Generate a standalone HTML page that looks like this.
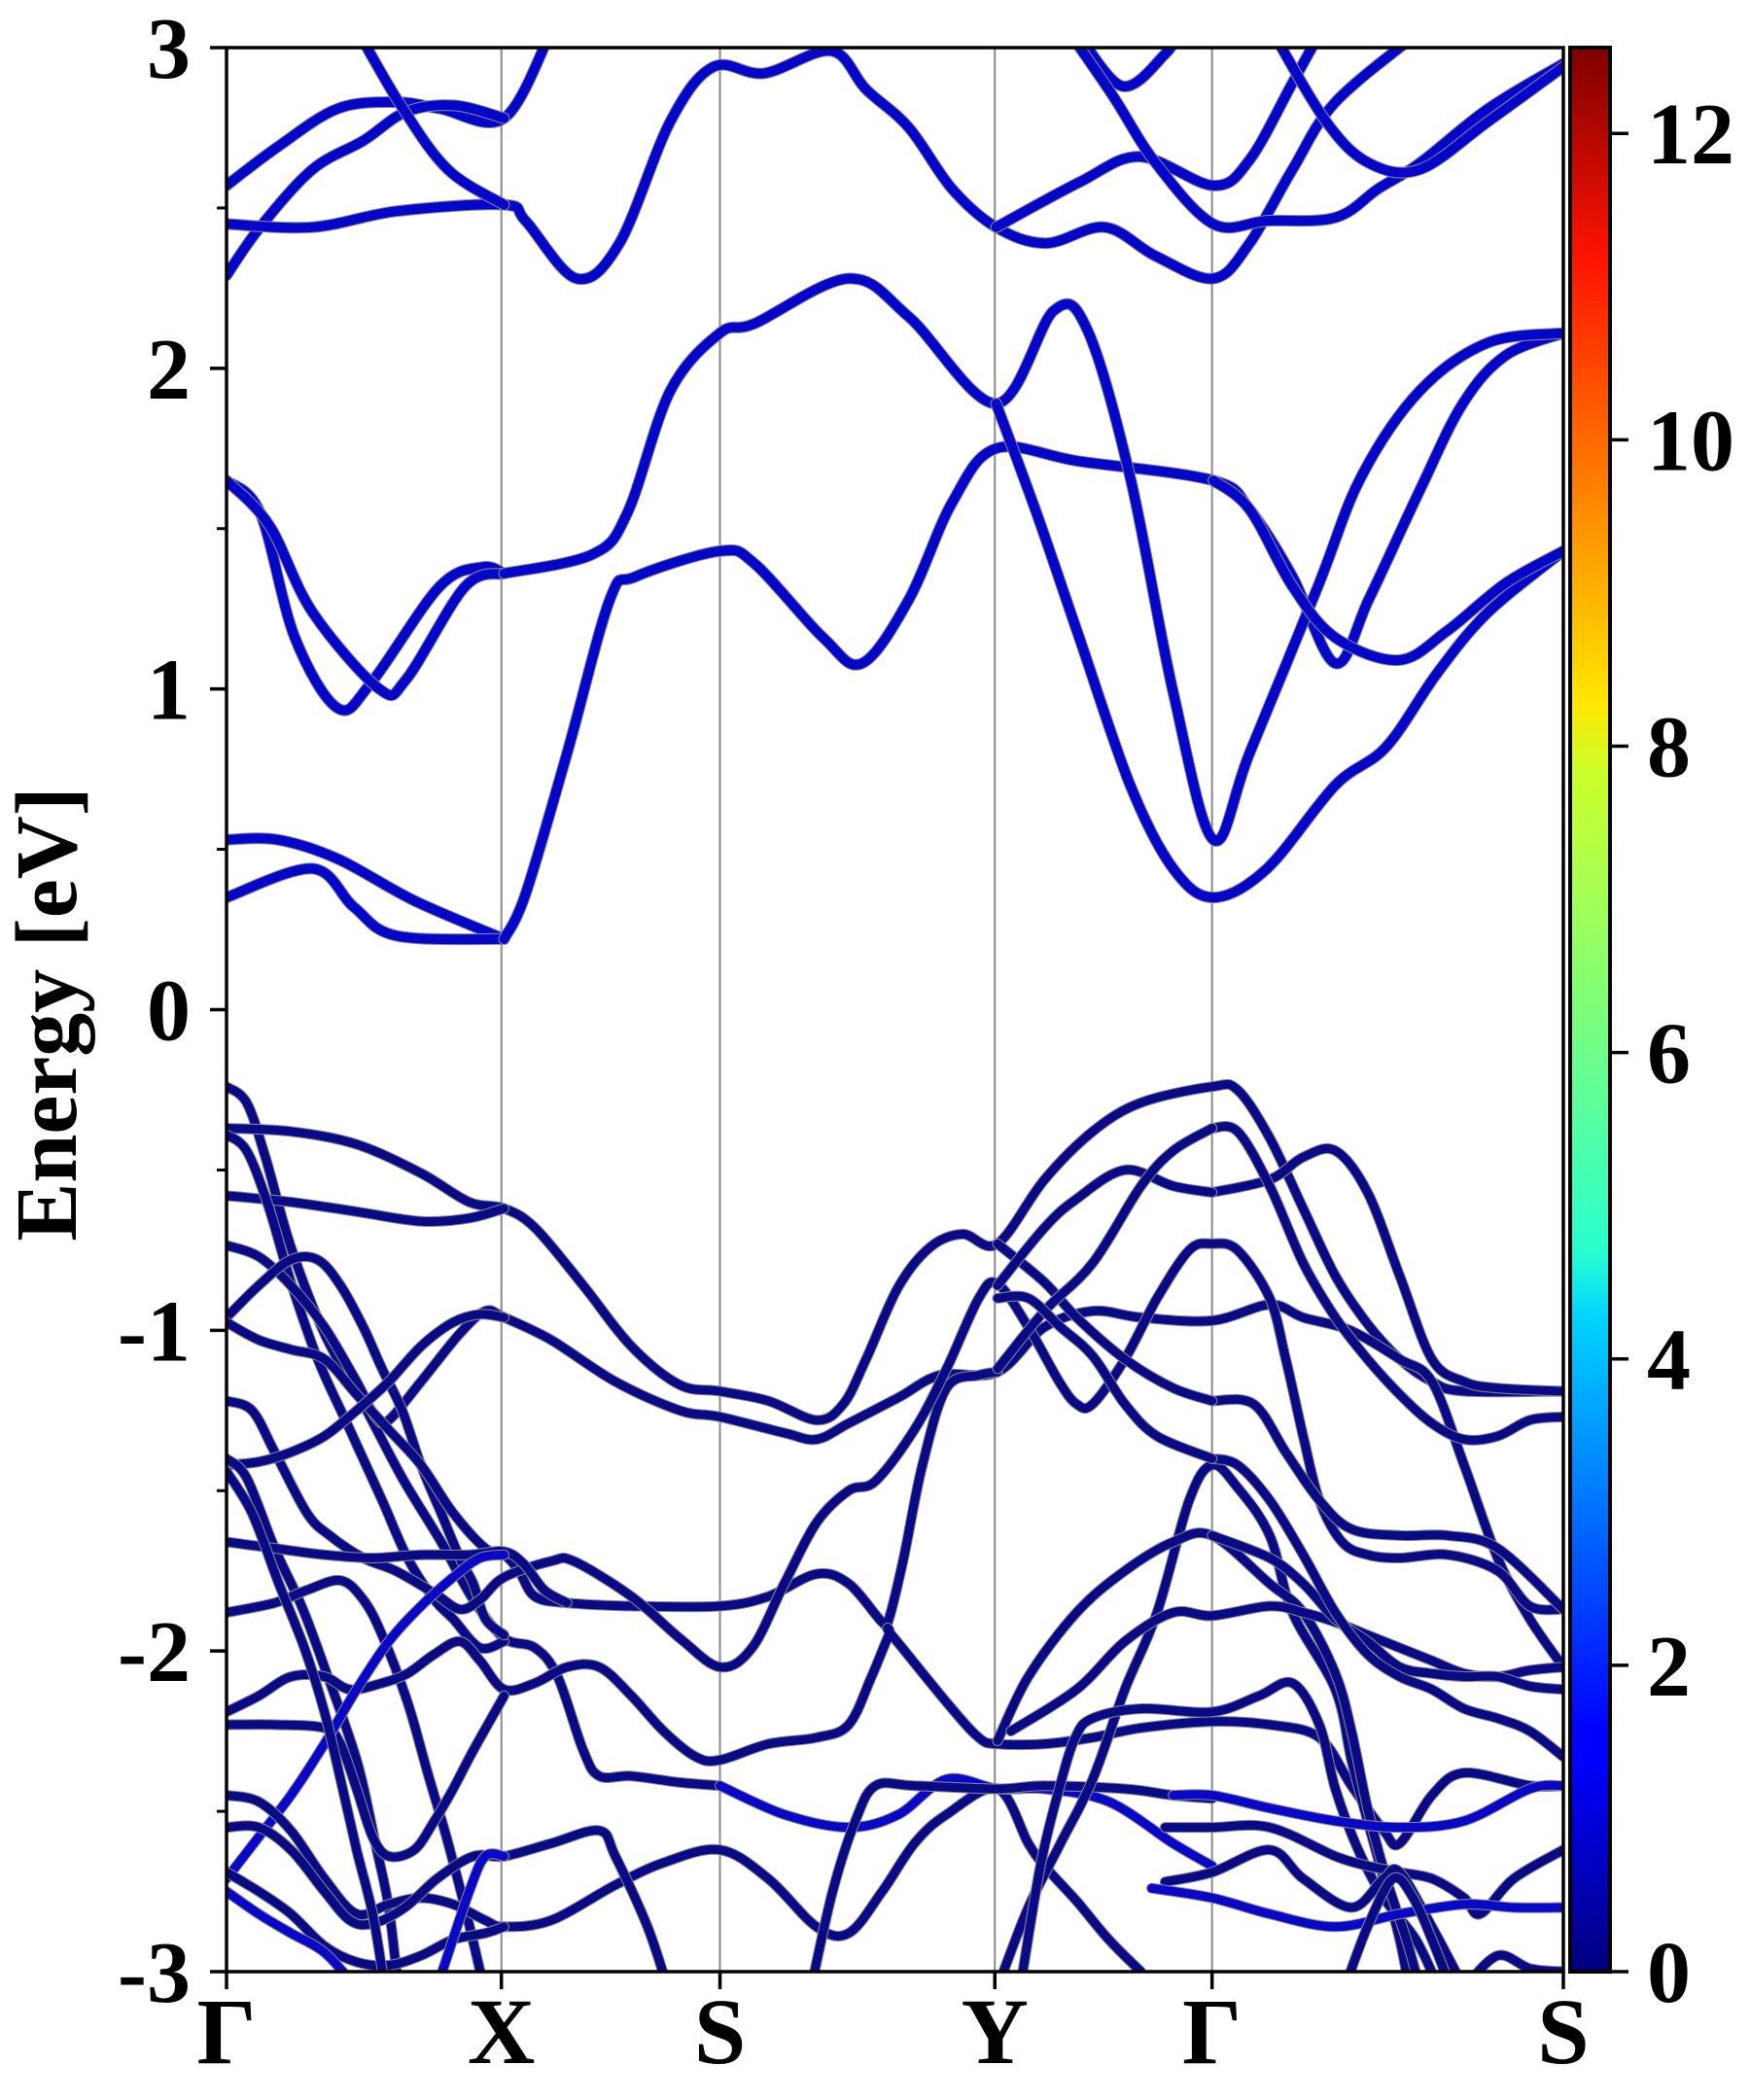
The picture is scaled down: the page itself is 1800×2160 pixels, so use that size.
<!DOCTYPE html>
<html><head><meta charset="utf-8"><style>
html,body{margin:0;padding:0;background:#fff;}
svg{display:block;}
text{font-family:"Liberation Serif","Times New Roman",Times,serif;font-weight:bold;fill:#000;}
</style></head><body>
<svg id="chart" width="1800" height="2160" viewBox="0 0 1800 2160" xmlns="http://www.w3.org/2000/svg" font-family="Liberation Serif, Times New Roman, serif">
<defs>
<clipPath id="plotclip"><rect x="233" y="49" width="1375" height="1979"/></clipPath>
<linearGradient id="jet" x1="0" y1="1" x2="0" y2="0">
<stop offset="0" stop-color="#00007f"/><stop offset="0.11" stop-color="#0000ff"/><stop offset="0.125" stop-color="#0000ff"/>
<stop offset="0.34" stop-color="#00d4ff"/><stop offset="0.375" stop-color="#29ffce"/><stop offset="0.5" stop-color="#7dff7a"/>
<stop offset="0.625" stop-color="#ceff29"/><stop offset="0.66" stop-color="#ffe600"/><stop offset="0.89" stop-color="#ff1300"/><stop offset="1" stop-color="#7f0000"/>
</linearGradient>
</defs>
<g id="grid"></g>
<g id="bands" clip-path="url(#plotclip)"></g>
<g id="axes"></g>
<text font-family="Liberation Serif, Times New Roman, serif" font-weight="bold" transform="translate(78,1043) rotate(-90)" font-size="90" text-anchor="middle">Energy [eV]</text>
<g id="cbar"></g>
</svg>
<script>
const kTicks = [170, 375, 538, 743, 905, 1167];
const kLabels = ["Γ", "X", "S", "Y", "Γ", "S"];
const yTicks = [-3, -2, -1, 0, 1, 2, 3];
const yMinor = [-2.5, -1.5, -0.5, 0.5, 1.5, 2.5];
const cbarTicks = [0, 2, 4, 6, 8, 10, 12];
const cbarMax = 12.56;

// conduction bands [k, E]
const bandC1 = [[170,.53],[208,.53],[253,.47],[310,.34],[377,.22]];
const bandC2 = [[170,.35],[234,.44],[265,.32],[297,.23],[377,.22]];
const bandC3 = [[377,.22],[393,.36],[424,.80],[456,1.28],[475,1.35],[538,1.43],[564,1.39],[615,1.16],[644,1.08],[679,1.28],[711,1.58],[744,1.75],[806,1.71],[906,1.65],[933,1.56],[965,1.35],[997,1.08],[1022,1.28],[1060,1.62],[1092,1.89],[1124,2.04],[1167,2.11]];
const bandC4 = [[170,1.65],[195,1.55],[221,1.16],[253,.94],[278,1.02],[329,1.32],[361,1.38],[377,1.36]];
const bandC5 = [[170,1.65],[202,1.51],[234,1.24],[284,1.0],[304,1.03],[348,1.32],[377,1.36]];
const bandC6 = [[377,1.36],[443,1.42],[469,1.55],[501,1.93],[538,2.11],[564,2.14],[634,2.28],[679,2.16],[744,1.89],[787,2.18],[812,2.12],[844,1.66],[876,.99],[906,.53],[933,.80],[984,1.32],[1016,1.66],[1060,1.93],[1111,2.08],[1167,2.11]];
const bandC7 = [[744,1.89],[774,1.55],[806,1.16],[844,.70],[876,.44],[906,.35],[946,.44],[997,.70],[1035,.82],[1073,1.05],[1111,1.24],[1167,1.43]];
const bandC8 = [[906,1.65],[933,1.56],[965,1.32],[997,1.16],[1044,1.09],[1080,1.18],[1124,1.33],[1167,1.43]];
const bandU1 = [[170,2.57],[208,2.69],[253,2.81],[297,2.83],[329,2.81],[377,2.78],[412,3.05]];
const bandU2 = [[170,2.29],[195,2.44],[234,2.62],[272,2.71],[304,2.80],[340,2.82],[377,2.78]];
const bandU3 = [[170,2.45],[234,2.44],[297,2.49],[377,2.51],[393,2.46],[431,2.28],[463,2.39],[501,2.77],[533,2.94],[571,2.92],[621,2.99],[647,2.87],[679,2.75],[711,2.56],[744,2.44],[781,2.39],[825,2.44],[863,2.35],[906,2.28],[933,2.39],[965,2.62],[997,2.83],[1060,3.05]];
const bandU4 = [[268,3.05],[300,2.82],[335,2.62],[377,2.51]];
const bandU5 = [[744,2.44],[806,2.58],[851,2.66],[906,2.57],[933,2.65],[965,2.89],[986,3.05]];
const bandU6 = [[804,3.05],[838,2.88],[870,2.98],[880,3.05]];
const bandU7 = [[798,3.05],[831,2.85],[863,2.64],[906,2.45],[946,2.46],[997,2.47],[1029,2.56],[1060,2.64],[1111,2.81],[1167,2.95]];
const bandU8 = [[950,3.05],[990,2.77],[1022,2.64],[1060,2.62],[1111,2.77],[1167,2.94]];

// valence bands [k, E]
const bandV1 = [[170,-.24],[185,-.29],[199,-.46],[218,-.74],[243,-1.01],[272,-1.23],[301,-1.46],[330,-1.66],[354,-1.84],[377,-1.96],[400,-1.99],[417,-2.08],[436,-2.31],[448,-2.39],[472,-2.39],[508,-2.41],[538,-2.42]];
const bandV2 = [[170,-.37],[218,-.38],[267,-.42],[315,-.51],[351,-.60],[377,-.62],[400,-.68],[436,-.86],[472,-1.05],[508,-1.17],[538,-1.19],[574,-1.22],[610,-1.28],[630,-1.23],[647,-1.09],[671,-.865],[695,-.74],[719,-.70],[745,-.73],[780,-.53],[816,-.38],[852,-.29],[905,-.24],[924,-.25],[948,-.40],[973,-.62],[997,-.83],[1021,-.98],[1045,-1.09],[1069,-1.16],[1093,-1.19],[1167,-1.19]];
const bandV3 = [[170,-.58],[218,-.60],[267,-.63],[315,-.66],[351,-.65],[377,-.62]];
const bandV4 = [[170,-.39],[185,-.44],[201,-.61],[218,-.85],[238,-1.09],[262,-1.31],[286,-1.53],[305,-1.71],[325,-1.84],[339,-1.90],[359,-1.99],[377,-1.97]];
const bandV5 = [[170,-.735],[194,-.77],[218,-.86],[243,-.99],[267,-1.16],[281,-1.27],[291,-1.28],[315,-1.16],[344,-1.01],[363,-.94],[377,-.96],[412,-1.03],[460,-1.16],[508,-1.25],[538,-1.27],[586,-1.32],[610,-1.34],[634,-1.29],[671,-1.21],[702,-1.14],[745,-1.13],[780,-.99],[816,-.94],[852,-.96],[905,-.97],[948,-.92],[973,-.96],[1008,-1.0],[1045,-1.09],[1069,-1.16],[1093,-1.42],[1118,-1.71],[1142,-1.90],[1167,-2.05]];
const bandV6 = [[170,-.96],[194,-.86],[218,-.78],[238,-.78],[255,-.86],[272,-.99],[286,-1.12],[301,-1.25],[315,-1.42],[330,-1.57],[344,-1.71],[354,-1.79],[363,-1.90],[377,-1.95]];
const bandV7 = [[170,-.975],[194,-1.03],[218,-1.06],[243,-1.09],[267,-1.20],[291,-1.31],[315,-1.42],[339,-1.57],[363,-1.68],[377,-1.70],[388,-1.75],[400,-1.83],[424,-1.85],[472,-1.86],[538,-1.86],[574,-1.83],[610,-1.76],[634,-1.79],[659,-1.91],[664,-1.90],[675,-1.71],[689,-1.42],[707,-1.18],[731,-1.14],[745,-1.13]];
const bandV8 = [[170,-1.22],[189,-1.25],[206,-1.38],[230,-1.57],[247,-1.64],[272,-1.71],[296,-1.75],[325,-1.82],[344,-1.87],[359,-1.84],[377,-1.77],[412,-1.72],[429,-1.72],[472,-1.83],[508,-1.96],[538,-2.05],[562,-1.99],[586,-1.79],[610,-1.60],[634,-1.50],[654,-1.47],[683,-1.31],[707,-1.12],[731,-.90],[745,-.855],[768,-.99],[791,-1.16],[804,-1.23],[816,-1.23],[840,-1.09],[864,-.90],[888,-.75],[905,-.73],[924,-.75],[948,-.90],[960,-1.09],[973,-1.33],[985,-1.53],[1002,-1.66],[1021,-1.70],[1045,-1.71],[1081,-1.70],[1118,-1.75],[1142,-1.86],[1167,-1.87]];
const bandV9 = [[170,-1.42],[194,-1.41],[218,-1.38],[243,-1.33],[267,-1.25],[291,-1.16],[315,-1.05],[339,-.975],[359,-.95],[377,-.96]];
const bandV10 = [[170,-1.40],[185,-1.46],[206,-1.68],[226,-1.86],[243,-2.05],[267,-2.34],[281,-2.60],[291,-2.80],[298,-3.05]];
const bandV11 = [[170,-1.66],[206,-1.68],[243,-1.70],[279,-1.71],[315,-1.70],[351,-1.70],[377,-1.69],[392,-1.73],[407,-1.81],[424,-1.85]];
const bandV12 = [[170,-1.88],[206,-1.85],[230,-1.81],[255,-1.78],[272,-1.84],[286,-1.95],[305,-2.16],[320,-2.38],[334,-2.58],[349,-2.82],[362,-3.05]];
const bandV13 = [[170,-2.19],[194,-2.14],[218,-2.08],[243,-2.08],[262,-2.12],[286,-2.10],[305,-2.07],[325,-2.01],[344,-1.97],[359,-2.03],[377,-2.12],[400,-2.10],[424,-2.05],[448,-2.05],[472,-2.14],[496,-2.25],[520,-2.33],[538,-2.34],[574,-2.29],[610,-2.27],[634,-2.23],[651,-2.08],[664,-1.95],[666,-1.95],[707,-2.16],[731,-2.27],[745,-2.29],[780,-2.29],[816,-2.27],[852,-2.24],[905,-2.22],[948,-2.23],[985,-2.27],[1009,-2.42],[1033,-2.56],[1045,-2.60],[1069,-2.45],[1093,-2.38],[1142,-2.42],[1167,-2.42]];
const bandV14 = [[170,-2.23],[206,-2.23],[243,-2.24],[255,-2.29],[267,-2.43],[279,-2.58],[291,-2.64],[310,-2.62],[325,-2.53],[339,-2.43],[354,-2.31],[377,-2.14]];
const bandV15 = [[170,-2.71],[194,-2.58],[218,-2.45],[243,-2.29],[267,-2.12],[291,-1.97],[315,-1.86],[339,-1.77],[359,-1.71],[377,-1.70]];
const bandV16 = [[170,-2.45],[194,-2.47],[218,-2.56],[243,-2.71],[267,-2.82],[291,-2.79],[315,-2.77],[339,-2.79],[363,-2.84],[377,-2.86],[412,-2.84],[460,-2.73],[496,-2.66],[538,-2.62],[574,-2.71],[610,-2.86],[634,-2.88],[659,-2.75],[683,-2.60],[707,-2.51],[745,-2.43],[768,-2.60],[780,-2.67],[804,-2.78],[828,-2.90],[852,-3.0]];
const bandV17 = [[170,-2.55],[194,-2.55],[218,-2.62],[243,-2.75],[262,-2.84],[279,-2.85],[303,-2.80],[327,-2.71],[354,-2.64],[377,-2.64],[412,-2.60],[448,-2.56],[460,-2.64],[484,-2.86],[499,-3.05]];
const bandV18 = [[170,-2.69],[194,-2.75],[218,-2.82],[243,-2.92],[267,-2.97],[291,-2.98],[315,-2.95],[339,-2.90],[363,-2.88],[377,-2.86]];
const bandV19 = [[170,-2.75],[194,-2.82],[218,-2.88],[243,-2.94],[267,-3.05]];
const bandV20 = [[170,-1.44],[189,-1.57],[209,-1.79],[228,-1.99],[243,-2.19],[255,-2.40],[267,-2.62],[279,-2.82],[288,-3.05]];
const bandV21 = [[327,-3.05],[351,-2.75],[363,-2.64],[377,-2.64]];
const bandV22 = [[538,-2.42],[586,-2.51],[634,-2.55],[671,-2.51],[707,-2.40],[745,-2.43],[780,-2.43],[828,-2.47],[876,-2.60],[905,-2.67]];
const bandV23 = [[606,-3.05],[622,-2.75],[639,-2.53],[654,-2.42],[683,-2.42],[745,-2.43],[780,-2.42],[840,-2.43],[876,-2.45],[905,-2.46]];
const bandV24 = [[745,-3.05],[768,-2.80],[792,-2.60],[816,-2.40],[840,-2.12],[864,-1.88],[888,-1.53],[905,-1.42],[924,-1.49],[948,-1.64],[965,-1.88],[997,-2.12],[1009,-2.34],[1021,-2.53],[1033,-2.71],[1045,-2.90],[1052,-3.05]];
const bandV25 = [[762,-3.05],[777,-2.67],[791,-2.43],[803,-2.27],[816,-2.21],[852,-2.18],[905,-2.19],[940,-2.14],[965,-2.10],[985,-2.23],[997,-2.43],[1014,-2.62],[1033,-2.77],[1057,-2.90],[1074,-3.05]];
const bandV26 = [[745,-2.28],[768,-2.08],[804,-1.88],[840,-1.75],[876,-1.66],[905,-1.64],[948,-1.79],[973,-1.88],[997,-2.07],[1009,-2.25],[1021,-2.49],[1035,-2.71],[1050,-2.90],[1060,-3.05]];
const bandV27 = [[755,-2.25],[804,-2.12],[840,-1.97],[876,-1.88],[905,-1.89],[948,-1.86],[973,-1.88],[997,-1.91],[1021,-1.95],[1045,-1.99],[1069,-2.03],[1093,-2.07],[1118,-2.08],[1142,-2.06],[1167,-2.05]];
const bandV28 = [[905,-1.64],[948,-1.71],[973,-1.79],[997,-1.90],[1021,-1.97],[1045,-2.05],[1069,-2.07],[1093,-2.08],[1118,-2.08],[1142,-2.11],[1167,-2.12]];
const bandV29 = [[905,-1.40],[924,-1.42],[948,-1.53],[973,-1.70],[997,-1.88],[1021,-2.01],[1045,-2.08],[1069,-2.12],[1093,-2.18],[1118,-2.21],[1142,-2.25],[1167,-2.33]];
const bandV30 = [[905,-1.22],[936,-1.23],[960,-1.38],[985,-1.53],[1009,-1.62],[1045,-1.64],[1081,-1.64],[1118,-1.68],[1167,-1.87]];
const bandV31 = [[905,-.57],[948,-.53],[973,-.46],[997,-.44],[1021,-.57],[1045,-.83],[1069,-1.09],[1093,-1.16],[1118,-1.18],[1167,-1.19]];
const bandV32 = [[905,-.37],[924,-.38],[948,-.55],[973,-.79],[997,-.96],[1021,-1.09],[1045,-1.20],[1069,-1.29],[1093,-1.34],[1118,-1.33],[1142,-1.28],[1167,-1.27]];
const bandV33 = [[745,-.73],[780,-.85],[804,-.96],[840,-1.09],[876,-1.18],[905,-1.22]];
const bandV34 = [[745,-.86],[780,-.68],[804,-.59],[840,-.50],[876,-.55],[905,-.57]];
const bandV35 = [[745,-1.12],[780,-.94],[816,-.79],[852,-.55],[876,-.44],[905,-.37]];
const bandV36 = [[745,-.90],[768,-.90],[792,-.99],[816,-1.08],[840,-1.23],[864,-1.33],[905,-1.40]];
const bandV37 = [[876,-2.45],[905,-2.45],[948,-2.49],[997,-2.53],[1045,-2.55],[1093,-2.53],[1142,-2.43],[1167,-2.42]];
const bandV38 = [[870,-2.55],[905,-2.55],[948,-2.55],[997,-2.64],[1021,-2.67],[1045,-2.69],[1069,-2.71],[1093,-2.77],[1105,-2.82],[1130,-2.71],[1167,-2.62]];
const bandV39 = [[870,-2.72],[905,-2.69],[948,-2.62],[973,-2.71],[1009,-2.80],[1033,-2.71],[1045,-2.69],[1069,-2.86],[1093,-3.05]];
const bandV40 = [[860,-2.74],[905,-2.77],[948,-2.82],[997,-2.86],[1045,-2.82],[1093,-2.79],[1130,-2.80],[1167,-2.80]];
const bandV41 = [[1093,-3.05],[1118,-2.95],[1142,-2.99],[1167,-3.0]];
const bandV42 = [[1004,-3.05],[1021,-2.86],[1040,-2.71],[1055,-2.77],[1069,-2.90],[1083,-3.05]];

const conductionBands = [bandC1,bandC2,bandC3,bandC4,bandC5,bandC6,bandC7,bandC8,bandU1,bandU2,bandU3,bandU4,bandU5,bandU6,bandU7,bandU8];
const valenceBands = [bandV1,bandV2,bandV3,bandV4,bandV5,bandV6,bandV7,bandV8,bandV9,bandV10,bandV11,bandV12,bandV13,bandV14,bandV15,bandV16,bandV17,bandV18,bandV19,bandV20,bandV21,bandV22,bandV23,bandV24,bandV25,bandV26,bandV27,bandV28,bandV29,bandV30,bandV31,bandV32,bandV33,bandV34,bandV35,bandV36,bandV37,bandV38,bandV39,bandV40,bandV41,bandV42];
const brightBands = [bandV15,bandV19,bandV21,bandV22,bandV37,bandV40];

const NS = "http://www.w3.org/2000/svg";
const X0 = 233, X1 = 1608, Y0 = 49, Y1 = 2028;
const kMin = 170, kMax = 1167, eMin = -3, eMax = 3;
const FONT = "Liberation Serif, Times New Roman, serif";
function xScale(k){ return X0 + (k - kMin) * (X1 - X0) / (kMax - kMin); }
function yScale(e){ return Y1 - (e - eMin) * (Y1 - Y0) / (eMax - eMin); }
function cScale(v){ return Y1 - v * (Y1 - Y0) / cbarMax; }
function mk(tag, attrs, parent){ const el = document.createElementNS(NS, tag); for (const a in attrs) el.setAttribute(a, attrs[a]); parent.appendChild(el); return el; }

function smoothPath(pts){
  const p = pts.map(q => [xScale(q[0]), yScale(q[1])]);
  let d = "M" + p[0][0].toFixed(1) + "," + p[0][1].toFixed(1);
  for (let i = 0; i < p.length - 1; i++){
    const p0 = p[i-1] || p[i], p1 = p[i], p2 = p[i+1], p3 = p[i+2] || p[i+1];
    const c1x = p1[0] + (p2[0]-p0[0])/6, c1y = p1[1] + (p2[1]-p0[1])/6;
    const c2x = p2[0] - (p3[0]-p1[0])/6, c2y = p2[1] - (p3[1]-p1[1])/6;
    d += " C" + c1x.toFixed(1)+","+c1y.toFixed(1)+" "+c2x.toFixed(1)+","+c2y.toFixed(1)+" "+p2[0].toFixed(1)+","+p2[1].toFixed(1);
  }
  return d;
}

const grid = document.getElementById("grid");
kTicks.slice(1, -1).forEach(k => {
  const l = mk("line", {x1: xScale(k), x2: xScale(k), y1: Y0, y2: Y1, stroke: "#888", "stroke-width": 2}, grid);
  
  
});

const bandsG = document.getElementById("bands");
function drawBand(pts, color, w){
  const d = smoothPath(pts);
  const o = mk("path", {d: d, fill: "none", stroke: "#8a8a9a", "stroke-width": w + 2, "stroke-linecap": "round", "stroke-linejoin": "round"}, bandsG);
  
  
  const p = mk("path", {d: d, fill: "none", stroke: color, "stroke-width": w, "stroke-linecap": "round", "stroke-linejoin": "round"}, bandsG);
  
  
}
valenceBands.forEach(b => drawBand(b, brightBands.includes(b) ? "#0808c6" : "#0a0a84", 9));
conductionBands.forEach(b => drawBand(b, "#0606c8", 10));

const axes = document.getElementById("axes");
const frame = mk("rect", {x: X0, y: Y0, width: X1 - X0, height: Y1 - Y0, fill: "none", stroke: "#000", "stroke-width": 3.5}, axes);


yTicks.forEach(v => {
  const y = yScale(v);
  const t = mk("line", {x1: X0 - 17, x2: X0, y1: y, y2: y, stroke: "#000", "stroke-width": 3.5}, axes);
  
  
  const lb = mk("text", {x: 196, y: y + 31, "font-size": 90, "text-anchor": "end", "font-family": FONT, "font-weight": "bold"}, axes);
  lb.textContent = String(v);
  
  
});
yMinor.forEach(v => {
  const y = yScale(v);
  const t = mk("line", {x1: X0 - 10, x2: X0, y1: y, y2: y, stroke: "#000", "stroke-width": 3}, axes);
  
  
});
kTicks.forEach((k, i) => {
  const x = xScale(k);
  const t = mk("line", {x1: x, x2: x, y1: Y1, y2: Y1 + 18, stroke: "#000", "stroke-width": 3.5}, axes);
  
  
  const lb = mk("text", {x: x, y: 2122, "font-size": 96, "text-anchor": "middle", "font-family": FONT, "font-weight": "bold"}, axes);
  lb.textContent = kLabels[i];
  
  
});

const cbar = document.getElementById("cbar");
const cb = mk("rect", {x: 1615, y: Y0, width: 41, height: Y1 - Y0, fill: "url(#jet)", stroke: "#000", "stroke-width": 4}, cbar);


cbarTicks.forEach(v => {
  const y = cScale(v);
  const t = mk("line", {x1: 1657, x2: 1675, y1: y, y2: y, stroke: "#000", "stroke-width": 3.5}, cbar);
  
  
  const lb = mk("text", {x: 1694, y: y + 31, "font-size": 90, "text-anchor": "start", "font-family": FONT, "font-weight": "bold"}, cbar);
  lb.textContent = String(v);
  
  
});
</script>
</body></html>
